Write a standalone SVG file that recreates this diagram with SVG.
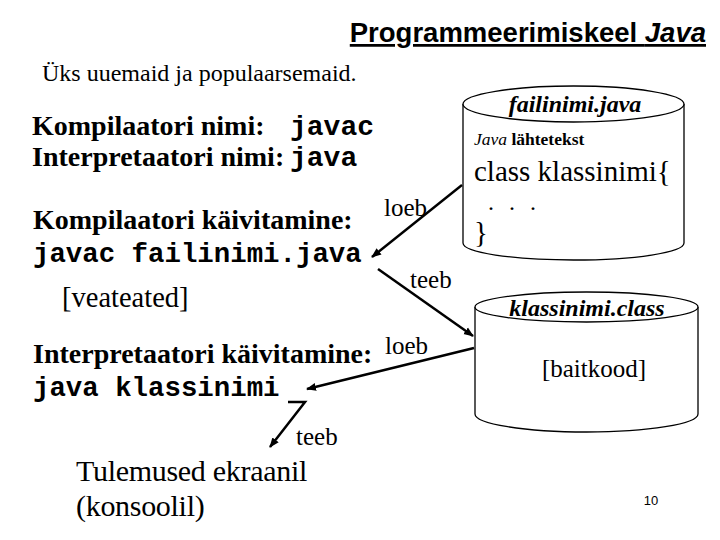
<svg xmlns="http://www.w3.org/2000/svg" width="720" height="540" viewBox="0 0 720 540">
<defs>
<marker id="ah" viewBox="0 0 10 10" refX="9" refY="5" markerWidth="4" markerHeight="4" orient="auto" markerUnits="strokeWidth">
<path d="M0,1 L10,5 L0,9 z" fill="#000"/>
</marker>
<style>
text{fill:#000}
.serif{font-family:"Liberation Serif","Times New Roman","DejaVu Serif",serif}
.bold{font-weight:bold}
.mono{font-family:"Liberation Mono","Courier New",monospace;font-weight:bold}
.cyl{fill:#fff;stroke:#000;stroke-width:1.3}
.conn{fill:none;stroke:#000;stroke-width:2.5}
.lbl{font-size:25px}
</style>
</defs>
<rect width="720" height="540" fill="#fff"/>

<g id="title">
<text x="706" y="42" text-anchor="end" font-family="Liberation Sans, Arial, sans-serif" font-weight="bold" font-size="27.5" text-decoration="underline">Programmeerimiskeel <tspan font-style="italic">Java</tspan></text>
</g>

<g id="intro">
<text class="serif" x="42" y="81" font-size="24">Üks uuemaid ja populaarsemaid.</text>
<text class="serif bold" x="32" y="135" font-size="28">Kompilaatori nimi:</text>
<text class="mono" x="290" y="135" font-size="28">javac</text>
<text class="serif bold" x="32" y="166" font-size="28">Interpretaatori nimi:</text>
<text class="mono" x="290" y="166" font-size="28">java</text>
</g>

<g id="compile">
<text class="serif bold" x="33" y="229" font-size="28">Kompilaatori käivitamine:</text>
<text class="mono" x="33" y="262" font-size="27.4">javac failinimi.java</text>
<text class="serif" x="62" y="307" font-size="28.5">[veateated]</text>
</g>

<g id="interpret">
<text class="serif bold" x="33" y="363" font-size="28">Interpretaatori käivitamine:</text>
<text class="mono" x="33" y="396" font-size="27.4">java klassinimi</text>
</g>

<g id="results">
<text class="serif" x="76" y="481" font-size="30" letter-spacing="-0.3">Tulemused ekraanil</text>
<text class="serif" x="76" y="516" font-size="30" letter-spacing="-0.3">(konsoolil)</text>
</g>

<g id="source-file">
<path class="cyl" d="M463,104 L463,243 A110.5,17 0 0 0 684,243 L684,104"/>
<ellipse class="cyl" cx="573.5" cy="104" rx="110.5" ry="18"/>
<text class="serif bold" x="575" y="112" font-size="24" font-style="italic" text-anchor="middle">failinimi.java</text>
<text class="serif" x="474" y="145" font-size="17.5"><tspan font-style="italic">Java</tspan> <tspan font-weight="bold">lähtetekst</tspan></text>
<text class="serif" x="474" y="181" font-size="29">class klassinimi{</text>
<text class="serif" x="488" y="210" font-size="24">.</text>
<text class="serif" x="509" y="210" font-size="24">.</text>
<text class="serif" x="530" y="210" font-size="24">.</text>
<text class="serif" x="474" y="242" font-size="29">}</text>
</g>

<g id="class-file">
<path class="cyl" d="M475,307 L475,414 A111.5,18 0 0 0 698,414 L698,307"/>
<ellipse class="cyl" cx="586.5" cy="307" rx="111.5" ry="15"/>
<text class="serif bold" x="587" y="316" font-size="24" font-style="italic" text-anchor="middle">klassinimi.class</text>
<text class="serif" x="594" y="377" font-size="25" text-anchor="middle">[baitkood]</text>
</g>

<g id="page-number">
<text x="651" y="505" font-family="Liberation Sans, Arial, sans-serif" font-size="13" text-anchor="middle">10</text>
</g>

<g id="connectors">
<line class="conn" x1="462" y1="185" x2="372" y2="257" marker-end="url(#ah)"/>
<line class="conn" x1="378" y1="269" x2="473" y2="336" marker-end="url(#ah)"/>
<line class="conn" x1="474" y1="348" x2="307" y2="389" marker-end="url(#ah)"/>
<polyline class="conn" points="288,402 305,402 270,447" marker-end="url(#ah)" stroke-width="2"/>
<text class="serif lbl" x="384" y="216">loeb</text>
<text class="serif lbl" x="410" y="288">teeb</text>
<text class="serif lbl" x="385" y="354">loeb</text>
<text class="serif lbl" x="296" y="445">teeb</text>
</g>
</svg>
